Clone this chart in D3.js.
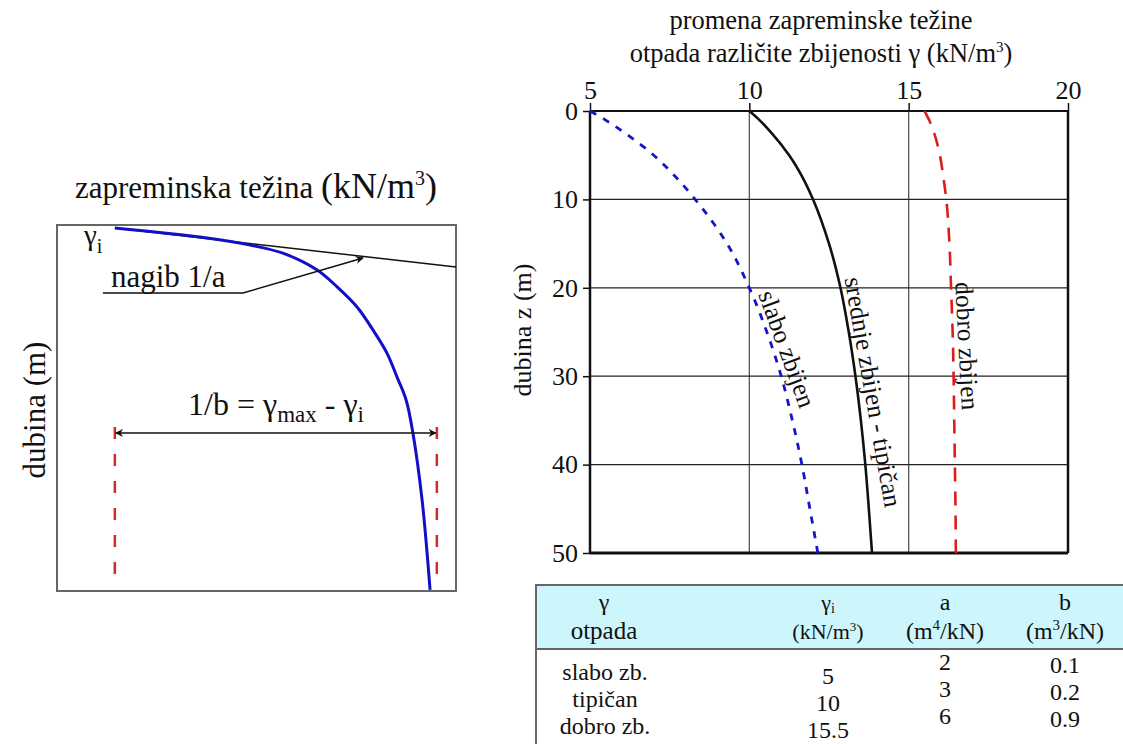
<!DOCTYPE html>
<html>
<head>
<meta charset="utf-8">
<script src="https://cdn.jsdelivr.net/npm/d3@7"></script>
</head>
<body style="margin:0;background:#fff">
<svg id="chart" width="1123" height="744"></svg>
<script>
// values (depth z in m, unit weight in kN/m3)
var depths  = [0, 1, 2.5, 5, 7.5, 10, 15, 20, 25, 30, 35, 40, 45, 50];
var slabo   = [5.0, 5.48, 6.1, 7.0, 7.7, 8.3, 9.3, 10.0, 10.55, 11.0, 11.35, 11.65, 11.9, 12.15];
var tipican = [10.0, 10.31, 10.7, 11.25, 11.67, 12.0, 12.5, 12.86, 13.12, 13.33, 13.5, 13.64, 13.75, 13.85];
var dobro   = [15.5, 15.64, 15.8, 15.98, 16.09, 16.18, 16.28, 16.33, 16.38, 16.41, 16.43, 16.45, 16.47, 16.48];
var xTicks = [5, 10, 15, 20];
var zTicks = [0, 10, 20, 30, 40, 50];

// table
var tableNames  = ["slabo zb.", "tipičan", "dobro zb."];
var tableGammaI = ["5", "10", "15.5"];
var tableA      = ["2", "3", "6"];
var tableB      = ["0.1", "0.2", "0.9"];

// left schematic, in box units 0-100
var schemX = [14.5, 35.8, 48.4, 56.6, 65.2, 70.2, 75.2, 79.2, 82.7, 85.2, 87.5, 89.2, 91.5, 93.5];
var schemZ = [0.8, 3.3, 5.5, 7.7, 12.3, 16.9, 22.4, 28.7, 35.0, 41.5, 47.8, 56.8, 75.1, 99.7];
var tangentX = [14.5, 100];
var tangentZ = [0.8, 11.5];
var nagibX = [11.5, 46.6, 76.7];
var nagibZ = [18.6, 18.6, 9.0];
var gammaI = 14.5, gammaMax = 95.2, arrowZ = 56.8, dashEndZ = 97;

var svg = d3.select("#chart");

// arrow markers
svg.append("defs").append("marker")
    .attr("id", "ah")
    .attr("viewBox", "0 0 10 10")
    .attr("refX", 9).attr("refY", 5)
    .attr("markerWidth", 10).attr("markerHeight", 8)
    .attr("markerUnits", "userSpaceOnUse")
    .attr("orient", "auto-start-reverse")
  .append("path")
    .attr("d", "M0,0 L10,5 L0,10 L3,5 Z")
    .attr("fill", "#111");

// ---------- left schematic ----------
var sx = d3.scaleLinear().domain([0, 100]).range([57, 456]);
var sz = d3.scaleLinear().domain([0, 100]).range([225, 591]);
var left = svg.append("g");

left.append("rect")
    .attr("x", sx(0)).attr("y", sz(0))
    .attr("width", sx(100) - sx(0)).attr("height", sz(100) - sz(0))
    .attr("fill", "none").attr("stroke", "#666").attr("stroke-width", 2);

var schemLine = d3.line()
    .x(function(d) { return sx(d[0]); })
    .y(function(d) { return sz(d[1]); });

left.append("path")
    .datum(d3.zip(tangentX, tangentZ))
    .attr("d", schemLine)
    .attr("fill", "none").attr("stroke", "#111").attr("stroke-width", 1.5);

left.append("path")
    .datum(d3.zip(schemX, schemZ))
    .attr("d", schemLine.curve(d3.curveCatmullRom.alpha(0.5)))
    .attr("fill", "none").attr("stroke", "#1010c8").attr("stroke-width", 3);
schemLine.curve(d3.curveLinear);

left.append("path")
    .datum(d3.zip(nagibX, nagibZ))
    .attr("d", schemLine)
    .attr("fill", "none").attr("stroke", "#111").attr("stroke-width", 1.5)
    .attr("marker-end", "url(#ah)");

[gammaI, gammaMax].forEach(function(v) {
  left.append("line")
      .attr("x1", sx(v)).attr("x2", sx(v))
      .attr("y1", sz(arrowZ) - 6).attr("y2", sz(dashEndZ))
      .attr("stroke", "#d42a2a").attr("stroke-width", 2.5)
      .attr("stroke-dasharray", "12,15");
});

left.append("line")
    .attr("x1", sx(gammaI) + 1).attr("x2", sx(gammaMax) - 1)
    .attr("y1", sz(arrowZ)).attr("y2", sz(arrowZ))
    .attr("stroke", "#111").attr("stroke-width", 1.5)
    .attr("marker-start", "url(#ah)").attr("marker-end", "url(#ah)");

var t = left.append("text").attr("x", 256).attr("y", 198)
    .attr("text-anchor", "middle").style("font-size", "31px");
t.append("tspan").text("zapreminska težina ");
t.append("tspan").style("font-size", "36px").text("(kN/m");
t.append("tspan").attr("dy", -13).style("font-size", "20px").text("3");
t.append("tspan").attr("dy", 13).style("font-size", "36px").text(")");

left.append("text")
    .attr("transform", "translate(45,410) rotate(-90)")
    .attr("text-anchor", "middle").style("font-size", "31px")
    .text("dubina (m)");

t = left.append("text").attr("x", 84).attr("y", 245).style("font-size", "29px");
t.append("tspan").text("γ");
t.append("tspan").attr("dy", 8).style("font-size", "20px").text("i");

left.append("text").attr("x", 111).attr("y", 287)
    .style("font-size", "31px").text("nagib 1/a");

t = left.append("text").attr("x", 276).attr("y", 415)
    .attr("text-anchor", "middle").style("font-size", "32px");
t.append("tspan").text("1/b = γ");
t.append("tspan").attr("dy", 7).style("font-size", "23px").text("max");
t.append("tspan").attr("dy", -7).text(" - γ");
t.append("tspan").attr("dy", 7).style("font-size", "23px").text("i");

// ---------- right chart ----------
var x = d3.scaleLinear().domain([5, 20]).range([590, 1068]);
var y = d3.scaleLinear().domain([0, 50]).range([111, 553]);
var right = svg.append("g");

// grid
right.selectAll(".vgrid").data([10, 15]).enter().append("line")
    .attr("x1", x).attr("x2", x)
    .attr("y1", y(0)).attr("y2", y(50))
    .attr("stroke", "#555").attr("stroke-width", 1.3);
right.selectAll(".hgrid").data([10, 20, 30, 40]).enter().append("line")
    .attr("x1", x(5)).attr("x2", x(20))
    .attr("y1", y).attr("y2", y)
    .attr("stroke", "#222").attr("stroke-width", 1.3);

// axes
var xAxis = right.append("g")
    .attr("transform", "translate(0," + y(0) + ")")
    .call(d3.axisTop(x).tickValues(xTicks).tickSize(8).tickPadding(4));
var yAxis = right.append("g")
    .attr("transform", "translate(" + x(5) + ",0)")
    .call(d3.axisLeft(y).tickValues(zTicks).tickSize(7).tickPadding(5));
[xAxis, yAxis].forEach(function(a) {
  a.select(".domain").remove();
  a.selectAll("line").attr("stroke", "#111").attr("stroke-width", 1.5);
  a.selectAll("text").style("font-size", "26px").attr("fill", "#111");
});

// frame
right.append("line").attr("x1", x(5)).attr("x2", x(20)).attr("y1", y(0)).attr("y2", y(0))
    .attr("stroke", "#111").attr("stroke-width", 2);
right.append("line").attr("x1", x(5)).attr("x2", x(20)).attr("y1", y(50)).attr("y2", y(50))
    .attr("stroke", "#111").attr("stroke-width", 3);
right.append("line").attr("x1", x(5)).attr("x2", x(5)).attr("y1", y(0)).attr("y2", y(50))
    .attr("stroke", "#111").attr("stroke-width", 2.5);
right.append("line").attr("x1", x(20)).attr("x2", x(20)).attr("y1", y(0)).attr("y2", y(50))
    .attr("stroke", "#111").attr("stroke-width", 2.5);

// curves
var line = d3.line()
    .x(function(d) { return x(d[0]); })
    .y(function(d) { return y(d[1]); })
    .curve(d3.curveMonotoneY);

right.append("path").datum(d3.zip(slabo, depths)).attr("d", line)
    .attr("fill", "none").attr("stroke", "#1414c8").attr("stroke-width", 2.8)
    .attr("stroke-dasharray", "7,8");
right.append("path").datum(d3.zip(tipican, depths)).attr("d", line)
    .attr("fill", "none").attr("stroke", "#111").attr("stroke-width", 2.6);
right.append("path").datum(d3.zip(dobro, depths)).attr("d", line)
    .attr("fill", "none").attr("stroke", "#dd1c1c").attr("stroke-width", 2.6)
    .attr("stroke-dasharray", "14,10");

// curve labels
var curveLabels = [
  { text: "slabo zbijen", x: 787, y: 349, angle: 70 },
  { text: "srednje zbijen - tipičan", x: 873, y: 392, angle: 80 },
  { text: "dobro zbijen", x: 967, y: 346, angle: 87 }
];
right.selectAll(".clabel").data(curveLabels).enter().append("text")
    .attr("transform", function(d) { return "translate(" + d.x + "," + d.y + ") rotate(" + d.angle + ")"; })
    .attr("text-anchor", "middle").attr("dominant-baseline", "central")
    .style("font-size", "25.5px")
    .text(function(d) { return d.text; });

// titles
right.append("text").attr("x", 821).attr("y", 29).attr("text-anchor", "middle")
    .style("font-size", "26.5px").text("promena zapreminske težine");
t = right.append("text").attr("x", 821).attr("y", 62).attr("text-anchor", "middle")
    .style("font-size", "26.5px");
t.append("tspan").text("otpada različite zbijenosti γ (kN/m");
t.append("tspan").attr("dy", -10).style("font-size", "15px").text("3");
t.append("tspan").attr("dy", 10).text(")");

right.append("text")
    .attr("transform", "translate(531,330) rotate(-90)")
    .attr("text-anchor", "middle").style("font-size", "26px")
    .text("dubina z (m)");

// ---------- table ----------
var tbl = svg.append("g");
tbl.append("rect").attr("x", 536).attr("y", 585).attr("width", 600).attr("height", 64)
    .attr("fill", "#ccf6fb");
tbl.append("line").attr("x1", 536).attr("x2", 1123).attr("y1", 585).attr("y2", 585)
    .attr("stroke", "#666").attr("stroke-width", 2);
tbl.append("line").attr("x1", 536).attr("x2", 1123).attr("y1", 649).attr("y2", 649)
    .attr("stroke", "#666").attr("stroke-width", 2);
tbl.append("line").attr("x1", 536).attr("x2", 536).attr("y1", 584).attr("y2", 744)
    .attr("stroke", "#666").attr("stroke-width", 2);

function header(cx, top, unitParts) {
  var h = tbl.append("text").attr("x", cx).attr("y", 610).attr("text-anchor", "middle");
  top.forEach(function(p) {
    h.append("tspan").attr("dy", p.dy || 0).style("font-size", p.size || "24px").text(p.t);
  });
  var u = tbl.append("text").attr("x", cx).attr("y", 639).attr("text-anchor", "middle");
  unitParts.forEach(function(p) {
    u.append("tspan").attr("dy", p.dy || 0).style("font-size", p.size || "24px").text(p.t);
  });
}
header(604, [{ t: "γ" }], [{ t: "otpada", size: "25px" }]);
header(828, [{ t: "γ", size: "22px" }, { t: "i", dy: 3, size: "14px" }],
       [{ t: "(kN/m", size: "22px" }, { t: "3", dy: -8, size: "13px" }, { t: ")", dy: 8, size: "22px" }]);
header(945, [{ t: "a" }],
       [{ t: "(m" }, { t: "4", dy: -9, size: "15px" }, { t: "/kN)", dy: 9 }]);
header(1065, [{ t: "b" }],
       [{ t: "(m" }, { t: "3", dy: -9, size: "15px" }, { t: "/kN)", dy: 9 }]);

var cols = [
  { vals: tableNames,  cx: 605,  y0: 680 },
  { vals: tableGammaI, cx: 828,  y0: 684 },
  { vals: tableA,      cx: 945,  y0: 670 },
  { vals: tableB,      cx: 1065, y0: 673 }
];
cols.forEach(function(c) {
  tbl.selectAll(null).data(c.vals).enter().append("text")
      .attr("x", c.cx)
      .attr("y", function(d, i) { return c.y0 + i * 27; })
      .attr("text-anchor", "middle").style("font-size", "24px")
      .text(function(d) { return d; });
});

// one serif face for every text
svg.selectAll("text").style("font-family", "'Liberation Serif'").attr("fill", "#111");
svg.selectAll("g").attr("font-family", null);
</script>
</body>
</html>
